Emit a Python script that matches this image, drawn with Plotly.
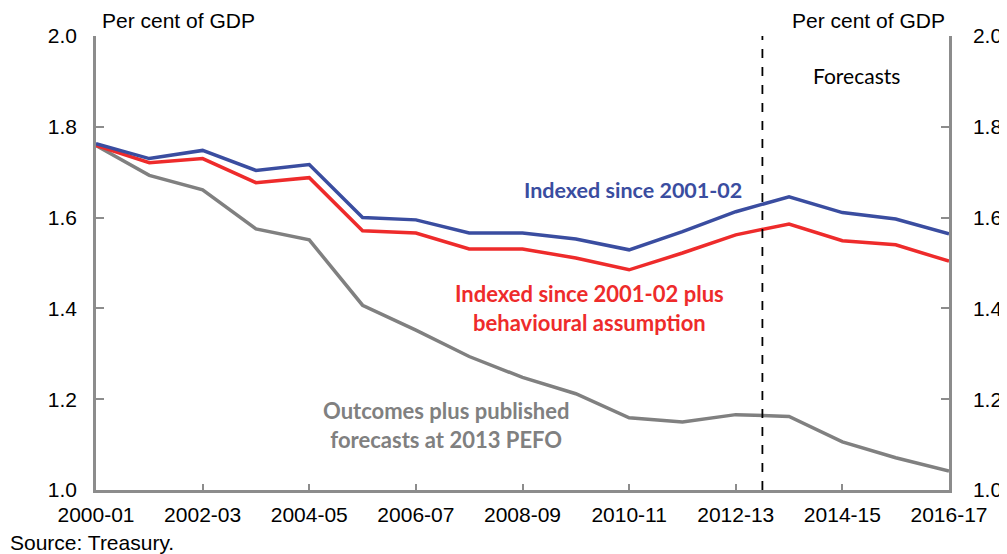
import plotly.graph_objects as go

years = ["2000-01", "2001-02", "2002-03", "2003-04", "2004-05", "2005-06",
         "2006-07", "2007-08", "2008-09", "2009-10", "2010-11", "2011-12",
         "2012-13", "2013-14", "2014-15", "2015-16", "2016-17"]

indexed = [1.763, 1.730, 1.748, 1.704, 1.717, 1.600, 1.595, 1.566, 1.566,
           1.553, 1.529, 1.569, 1.613, 1.646, 1.611, 1.597, 1.564]

indexed_behav = [1.759, 1.721, 1.730, 1.677, 1.688, 1.571, 1.566, 1.531, 1.531,
                 1.511, 1.485, 1.522, 1.562, 1.586, 1.549, 1.540, 1.504]

outcomes = [1.759, 1.693, 1.661, 1.575, 1.551, 1.407, 1.352, 1.294, 1.248,
            1.212, 1.159, 1.150, 1.166, 1.162, 1.106, 1.071, 1.042]

x_ticks = years[::2]

blue = "#3A4DA0"
red = "#EE2B2B"
grey = "#808080"
axis_col = "#8C8C8C"
tick_font = dict(family="Liberation Sans, Arial", size=21, color="black")
label_font = "Lato, Calibri, sans-serif"

fig = go.Figure()

fig.add_trace(go.Scatter(x=years, y=outcomes, mode="lines",
                         line=dict(color=grey, width=3.5)))
fig.add_trace(go.Scatter(x=years, y=indexed_behav, mode="lines",
                         line=dict(color=red, width=3.5)))
fig.add_trace(go.Scatter(x=years, y=indexed, mode="lines",
                         line=dict(color=blue, width=3.5)))
# invisible trace so the right axis gets drawn
fig.add_trace(go.Scatter(x=years, y=indexed, mode="lines", yaxis="y2",
                         line=dict(width=0), hoverinfo="skip", opacity=0))

# forecast divider
fig.add_shape(type="line", x0=12.5, x1=12.5, y0=1.0, y1=2.0,
              xref="x", yref="y", line=dict(color="black", width=1.8, dash="dash"))

# page body has an 8px margin, so the figure is 8px smaller and shifted;
# automargin off so the right-hand labels don't squeeze the plot
fig.update_layout(
    width=999, height=546,
    margin=dict(l=88, r=58, t=28, b=64),
    paper_bgcolor="white", plot_bgcolor="white",
    showlegend=False,
    xaxis=dict(type="category", range=[0, 16], tickvals=x_ticks, ticktext=x_ticks,
               ticks="inside", ticklen=6, tickcolor=axis_col, tickwidth=1.5,
               showline=True, linecolor=axis_col, linewidth=2.5, automargin=False,
               showgrid=False, tickfont=tick_font, ticklabelstandoff=4),
    yaxis=dict(range=[1.0, 2.0], dtick=0.2, tickformat=".1f", automargin=False,
               ticks="inside", ticklen=8, tickcolor=axis_col, tickwidth=1.5,
               showline=True, linecolor=axis_col, linewidth=2.5,
               showgrid=False, zeroline=False, tickfont=tick_font,
               ticklabelstandoff=12),
    yaxis2=dict(range=[1.0, 2.0], dtick=0.2, tickformat=".1f", overlaying="y",
                side="right", ticks="inside", ticklen=8, tickcolor=axis_col,
                tickwidth=1.5, showline=True, linecolor=axis_col, linewidth=2.5,
                showgrid=False, zeroline=False, tickfont=tick_font,
                ticklabelstandoff=17, automargin=False),
)

annos = [
    dict(x=0.005, y=1.035, xref="paper", yref="paper", text="Per cent of GDP",
         xanchor="left", yanchor="middle", font=tick_font),
    dict(x=0.998, y=1.035, xref="paper", yref="paper", text="Per cent of GDP",
         xanchor="right", yanchor="middle", font=tick_font),
    dict(x=14.27, y=1.912, xref="x", yref="y", text="Forecasts",
         xanchor="center", yanchor="middle",
         font=dict(family=label_font, size=21, color="black")),
    dict(x=10.07, y=1.661, xref="x", yref="y", text="<b>Indexed since 2001-02</b>",
         xanchor="center", yanchor="middle",
         font=dict(family=label_font, size=21.5, color=blue)),
    dict(x=9.25, y=1.401, xref="x", yref="y",
         text="<b>Indexed since 2001-02 plus<br>behavioural assumption</b>",
         xanchor="center", yanchor="middle", align="center",
         font=dict(family=label_font, size=22, color=red)),
    dict(x=6.57, y=1.143, xref="x", yref="y",
         text="<b>Outcomes plus published<br>forecasts at 2013 PEFO</b>",
         xanchor="center", yanchor="middle", align="center",
         font=dict(family=label_font, size=22, color=grey)),
    dict(x=-0.1032, y=-0.1167, xref="paper", yref="paper", text="Source: Treasury.",
         xanchor="left", yanchor="middle",
         font=dict(family="Liberation Sans, Arial", size=21, color="black")),
]
for a in annos:
    a["showarrow"] = False
    fig.add_annotation(**a)

fig.write_html("out.html")
